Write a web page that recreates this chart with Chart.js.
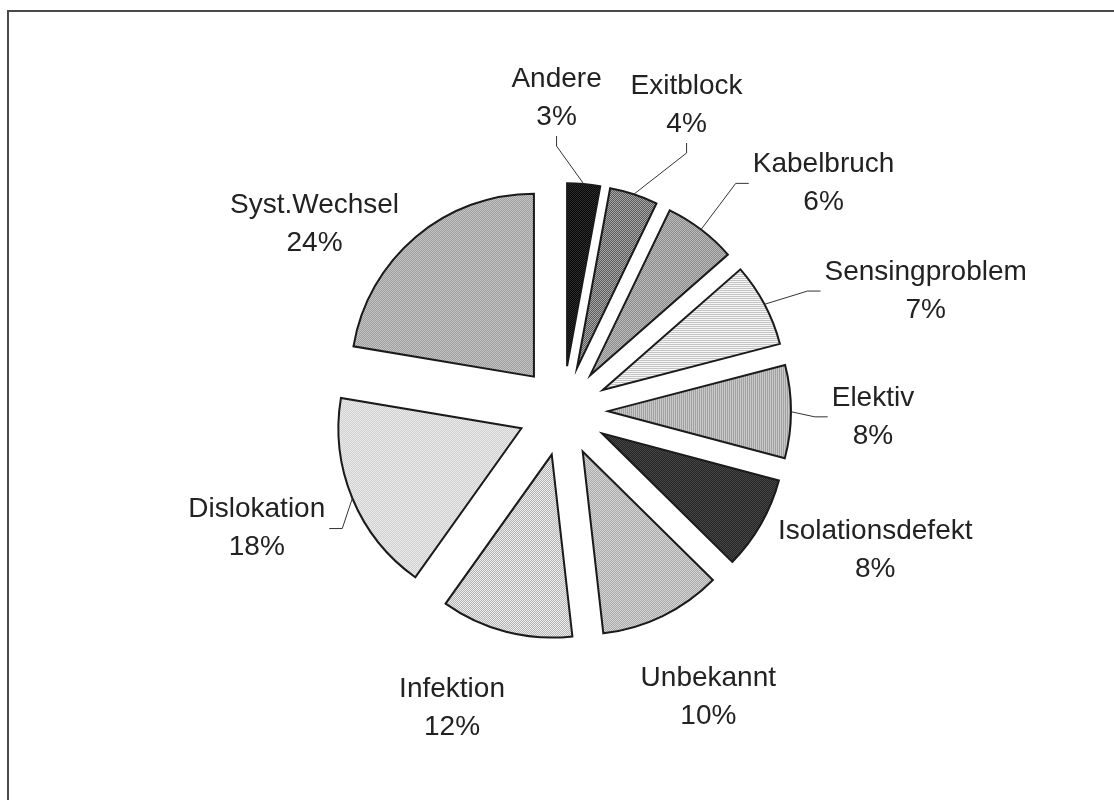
<!DOCTYPE html>
<html>
<head>
<meta charset="utf-8">
<script src="https://cdn.jsdelivr.net/npm/chart.js@4"></script>
<style>
  html, body { margin: 0; padding: 0; background: #fff; overflow: hidden; }
  #wrap { position: relative; width: 1114px; height: 800px; }
  #frame { position: absolute; left: 7px; top: 10px; width: 1200px; height: 900px;
           border-top: 2px solid #4a4a4a; border-left: 2px solid #4a4a4a; }
  canvas { position: absolute; left: 0; top: 0; }
</style>
</head>
<body>
<div id="wrap">
  <div id="frame"></div>
  <canvas id="chart" width="1114" height="800"></canvas>
</div>
<script>
// Kategorien
const categories = ["Andere", "Exitblock", "Kabelbruch", "Sensingproblem", "Elektiv",
  "Isolationsdefekt", "Unbekannt", "Infektion", "Dislokation", "Syst.Wechsel"];
// Segmentgrößen, wie im Bild gezeichnet (Anteil am Kreis, %)
const shares = [2.9, 4.25, 6.4, 7.4, 8.2, 8.25, 10.8, 11.65, 17.8, 22.35];
// Beschriftete Prozentwerte
const percentLabels = ["3%", "4%", "6%", "7%", "8%", "8%", "10%", "12%", "18%", "24%"];

// Beschriftung: Winkelkorrektur (Grad), Abstand zum Mittelpunkt, Führungslinie
const labelTurn = [-6.4, 3.9, 11.6, 9.6, 0.9, -5.7, -1.0, 6.0, 1.5, -12.8];
const labelDist = [313, 330, 346, 382, 310, 342, 321, 317, 328, 311];
const labelLeader = [true, true, true, true, true, false, false, false, true, false];

// Raster-Füllungen (Art, Farbe 1, Farbe 2)
const textures = [
  ["checker", "#050505", "#303030"],
  ["checker", "#5a5a5a", "#a8a8a8"],
  ["checker", "#8a8a8a", "#bdbdbd"],
  ["rows",    "#f6f6f6", "#c4c4c4"],
  ["cols",    "#a2a2a2", "#c8c8c8"],
  ["checker", "#262626", "#464646"],
  ["checker", "#a8a8a8", "#d6d6d6"],
  ["checker", "#b4b4b4", "#ececec"],
  ["checker", "#cfcfcf", "#ebebeb"],
  ["checker", "#9c9c9c", "#c6c6c6"]
];

const EXPLODE = 45;
const canvas = document.getElementById("chart");
const ctx = canvas.getContext("2d");

function texture(kind, a, b) {
  const tile = document.createElement("canvas");
  tile.width = 4; tile.height = 4;
  const g = tile.getContext("2d");
  g.fillStyle = a; g.fillRect(0, 0, 4, 4);
  g.fillStyle = b;
  for (let y = 0; y < 4; y++) {
    for (let x = 0; x < 4; x++) {
      const on = kind === "checker" ? (x + y) % 2 === 0 : kind === "rows" ? y % 2 === 0 : x % 2 === 0;
      if (on) g.fillRect(x, y, 1, 1);
    }
  }
  return ctx.createPattern(tile, "repeat");
}

// Segmente nach außen verschieben (explodiertes Kreisdiagramm)
const explodePlugin = {
  id: "explode",
  beforeDatasetDraw(chart, args) {
    args.meta.data.forEach(arc => {
      const mid = (arc.startAngle + arc.endAngle) / 2;
      arc._home = [arc.x, arc.y];
      arc.x += Math.cos(mid) * EXPLODE;
      arc.y += Math.sin(mid) * EXPLODE;
    });
  },
  afterDatasetDraw(chart, args) {
    args.meta.data.forEach(arc => { [arc.x, arc.y] = arc._home; });
  }
};

// Beschriftungen mit Führungslinien
const labelPlugin = {
  id: "pieLabels",
  afterDatasetsDraw(chart) {
    const c = chart.ctx;
    const arcs = chart.getDatasetMeta(0).data;
    c.save();
    c.font = '28px "Liberation Sans", Arial, sans-serif';
    c.fillStyle = "#222";
    c.textAlign = "center";
    c.textBaseline = "middle";
    arcs.forEach((arc, i) => {
      const mid = (arc.startAngle + arc.endAngle) / 2;
      const ang = mid + labelTurn[i] * Math.PI / 180;
      const cx = arc.x + Math.cos(ang) * labelDist[i];
      const cy = arc.y + Math.sin(ang) * labelDist[i];
      const line1 = categories[i];
      const line2 = percentLabels[i];
      c.fillText(line1, cx, cy - 19);
      c.fillText(line2, cx, cy + 19);

      if (!labelLeader[i]) return;
      const w = Math.max(c.measureText(line1).width, c.measureText(line2).width);
      const left = cx - w / 2, right = cx + w / 2;
      const top = cy - 35, bottom = cy + 35;
      const sx = arc.x + Math.cos(mid) * EXPLODE;
      const sy = arc.y + Math.sin(mid) * EXPLODE;
      const px = sx + Math.cos(mid) * arc.outerRadius;
      const py = sy + Math.sin(mid) * arc.outerRadius;
      let ax, ay, ex, ey;
      if (px >= left && px <= right) {
        ax = cx; ay = py > cy ? bottom + 3 : top - 3;
        ex = ax; ey = ay + (py > cy ? 10 : -10);
      } else {
        ay = cy; ax = px > cx ? right + 4 : left - 4;
        ey = ay; ex = ax + (px > cx ? 13 : -13);
      }
      c.beginPath();
      c.strokeStyle = "#333";
      c.lineWidth = 1;
      c.moveTo(ax, ay);
      c.lineTo(ex, ey);
      c.lineTo(px, py);
      c.stroke();
    });
    c.restore();
  }
};

new Chart(canvas, {
  type: "pie",
  data: {
    labels: categories,
    datasets: [{
      data: shares,
      backgroundColor: textures.map(t => texture(t[0], t[1], t[2])),
      borderColor: "#1a1a1a",
      borderWidth: 2,
      borderJoinStyle: "miter",
      radius: 183
    }]
  },
  options: {
    responsive: false,
    animation: false,
    events: [],
    layout: { padding: { left: 12, top: 22, right: 0, bottom: 0 } },
    plugins: { legend: { display: false }, tooltip: { enabled: false } }
  },
  plugins: [explodePlugin, labelPlugin]
});
</script>
</body>
</html>
